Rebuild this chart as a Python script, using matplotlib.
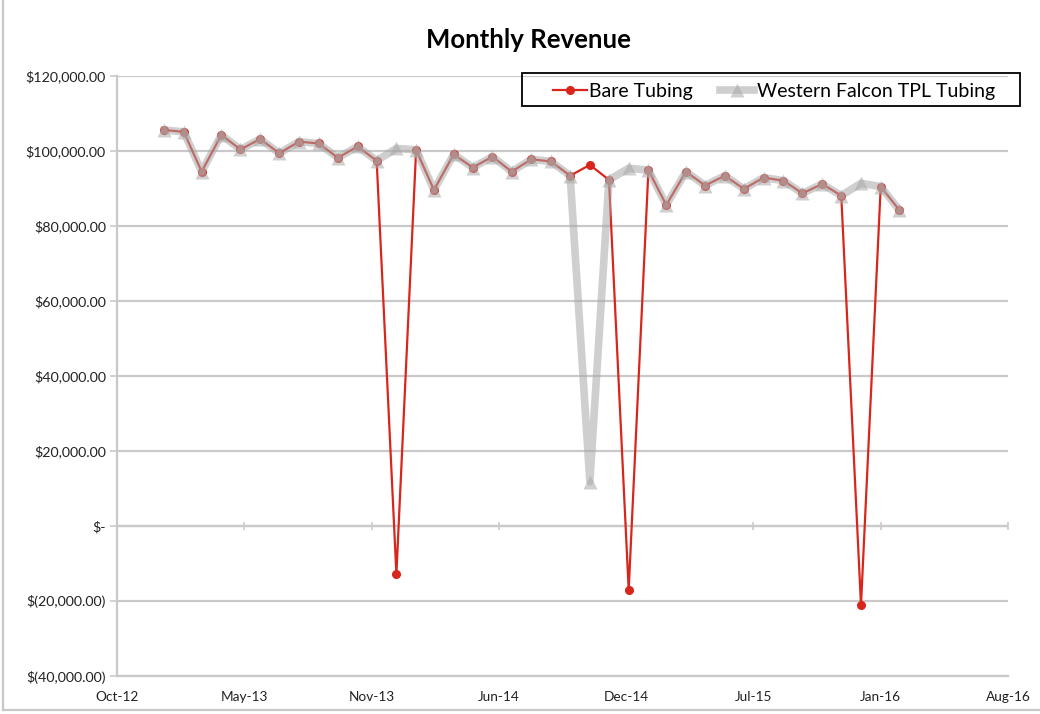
#!/usr/bin/env python3
"""Monthly revenue: Bare Tubing vs Western Falcon TPL Tubing (Excel-style line chart)."""
import datetime as dt

import matplotlib
matplotlib.use("Agg")
import matplotlib.pyplot as plt
import matplotlib.dates as mdates
import numpy as np
import pandas as pd
from matplotlib.lines import Line2D
from matplotlib.patches import Rectangle
from matplotlib.ticker import FixedLocator, FuncFormatter

# month-end dates, Dec 2012 .. Feb 2016
months = pd.date_range("2012-12-31", periods=39, freq="ME")

bare_tubing = [
    105600, 105100, 94500, 104300, 100400, 103200, 99400, 102500, 102000, 98200,
    101200, 97400, -12800, 100300, 89600, 99100, 95600, 98500, 94500, 97800,
    97200, 93400, 96300, 92300, -17100, 94900, 85600, 94500, 90800, 93400,
    89900, 92900, 92100, 88700, 91200, 88100, -21100, 90500, 84300,
]
western_falcon = [
    105600, 105100, 94500, 104300, 100400, 103200, 99400, 102500, 102000, 98200,
    101200, 97400, 100700, 100300, 89600, 99100, 95600, 98500, 94500, 97800,
    97200, 93400, 11800, 92300, 95400, 94900, 85600, 94500, 90800, 93400,
    89900, 92900, 92100, 88700, 91200, 88100, 91400, 90500, 84300,
]

y_ticks = [-40000, -20000, 0, 20000, 40000, 60000, 80000, 100000, 120000]

RED = "#d8261c"
GRAY = "#a8a8a8"
GRID = "#c9c9c9"
FONT = "Lato"


def money(v, _pos=None):
    if v == 0:
        return "$-"
    if v < 0:
        return "$({:,.2f})".format(-v)
    return "${:,.2f}".format(v)


fig = plt.figure(figsize=(10.4, 7.14), dpi=100)
ax = fig.add_axes([117 / 1040, 1 - 676 / 714, (1008 - 117) / 1040, (676 - 76) / 714])

x = mdates.date2num(months)
ax.plot(x, bare_tubing, "-", color=RED, lw=1.6, marker="o", ms=5.5,
        mec=RED, mfc=RED, zorder=3)
ax.plot(x, western_falcon, "-", color=GRAY, lw=5.5, alpha=0.55,
        marker="^", ms=10, mec="none", mfc=GRAY, zorder=4)

# Excel date axis: starts mid Oct-12, major unit 200 days
x0 = mdates.date2num(dt.date(2012, 10, 18))
xt = np.arange(x0, x0 + 1401, 200)
ax.set_xlim(x0, x0 + 1400)
ax.xaxis.set_major_locator(FixedLocator(xt))
ax.xaxis.set_major_formatter(mdates.DateFormatter("%b-%y"))

ax.set_ylim(-40000, 120000)
ax.yaxis.set_major_locator(FixedLocator(y_ticks))
ax.yaxis.set_major_formatter(FuncFormatter(money))

ax.grid(axis="y", color=GRID, lw=1.6)
ax.set_axisbelow(True)
for side in ("top", "right"):
    ax.spines[side].set_visible(False)
for side in ("left", "bottom"):
    ax.spines[side].set_color(GRID)
    ax.spines[side].set_linewidth(1.6)

ax.tick_params(axis="y", length=5, width=1.2, color=GRID, pad=3,
               labelsize=10.3, labelcolor="#222222")
ax.tick_params(axis="x", length=0, pad=11, labelsize=9.8, labelcolor="#222222")
for lab in ax.get_xticklabels() + ax.get_yticklabels():
    lab.set_fontfamily(FONT)

# category axis crosses at zero, with its own small tick marks
ax.axhline(0, color=GRID, lw=1.6, zorder=1)
ax.plot(xt, np.zeros_like(xt), ls="none", marker="|", ms=6, mew=1.2,
        color=GRID, zorder=1, clip_on=False)

fig.suptitle("Monthly Revenue", x=528 / 1040, y=1 - 40 / 714, va="center",
             fontsize=18.5, fontweight="bold", fontfamily=FONT)

handles = [
    Line2D([], [], color=RED, lw=1.6, marker="o", ms=5.5),
    Line2D([], [], color=GRAY, lw=5.5, alpha=0.55, marker="^", ms=10, mec="none"),
]
fig.legend(handles, ["Bare Tubing", "Western Falcon TPL Tubing"],
           loc="center", bbox_to_anchor=(774 / 1040, 1 - 91 / 714),
           ncol=2, frameon=False, borderpad=0, borderaxespad=0,
           handlelength=1.75, handletextpad=0.15, columnspacing=1.4,
           prop={"family": FONT, "size": 14})
# legend frame as Excel draws it
fig.add_artist(Rectangle((522 / 1040, 1 - 106 / 714), 498 / 1040, 33 / 714,
                         transform=fig.transFigure, fill=False,
                         edgecolor="black", lw=1.3))

# chart-area border
fig.add_artist(Line2D([3 / 1040, 3 / 1040], [4 / 714, 1], color="#c8c8c8", lw=1.6))
fig.add_artist(Line2D([3 / 1040, 1], [4 / 714, 4 / 714], color="#c8c8c8", lw=1.6))

fig.savefig("out.png", dpi=100)
